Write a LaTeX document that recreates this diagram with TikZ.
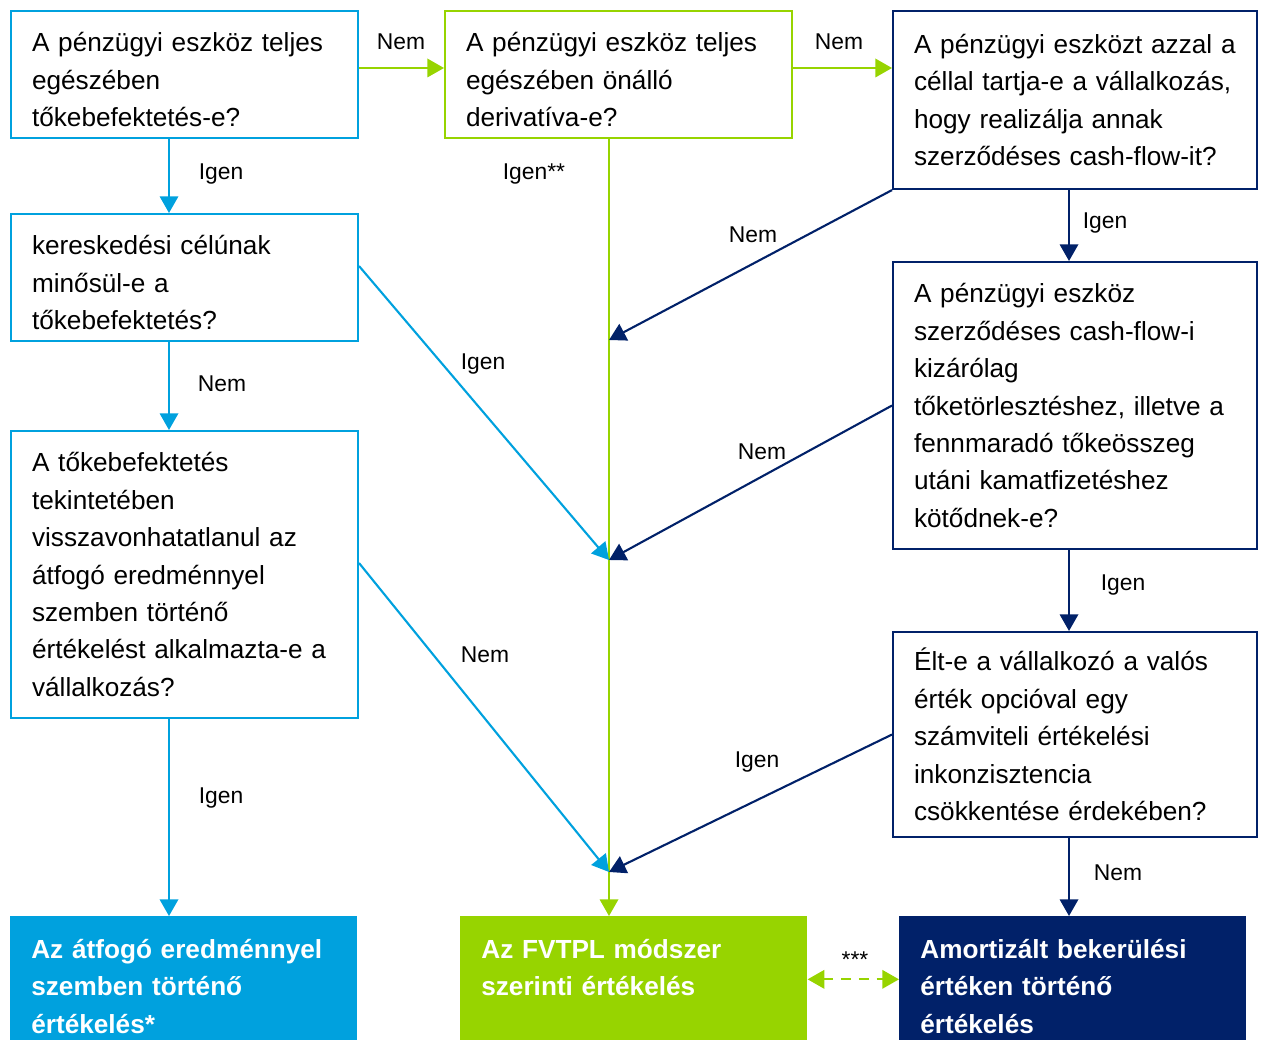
\documentclass[tikz,border=0pt]{standalone}
\usepackage{fontspec}
\setmainfont{Liberation Sans}
\usetikzlibrary{arrows.meta, positioning}
\definecolor{ltBlue}{RGB}{0,161,222}
\definecolor{fvGreen}{RGB}{151,212,0}
\definecolor{darkNavy}{RGB}{1,33,105}
\newcommand{\padTop}{\rule{0pt}{16.8pt}}
\tikzstyle{qBox} = [rectangle, draw, line width=1.2pt, anchor=north west, align=left, inner xsep=0.42cm, inner ysep=0pt, font=\fontsize{14.9}{21.3}\selectfont]
\tikzstyle{narrowBox} = [qBox, text width=6.1cm, minimum width=6.94cm]
\tikzstyle{wideBox} = [qBox, text width=6.44cm, minimum width=7.28cm]
\tikzstyle{endBox} = [rectangle, anchor=north west, align=left, text=white, font=\fontsize{14.9}{21.3}\selectfont\bfseries, text width=6.1cm, minimum width=6.94cm, minimum height=2.8cm, inner xsep=0.42cm]
\tikzstyle{arr} = [line width=1.2pt, -{Triangle[length=9.5pt,width=10.5pt]}]
\tikzstyle{lbl} = [font=\fontsize{13}{15}\selectfont]

\begin{document}
\begin{tikzpicture}[x=0.02cm,y=-0.02cm]
	\clip (0,0) rectangle (1261,1040);
	\coordinate (colL) at (169,0);
	\coordinate (colM) at (609,0);
	\coordinate (colR) at (1069,0);
	\coordinate (rowTop) at (0,68);

	% question boxes
	\node [narrowBox,draw=ltBlue,minimum height=2.54cm] (b1) at (10,10) {\padTop A pénzügyi eszköz teljes\\egészében\\tőkebefektetés-e?};
	\node [narrowBox,draw=fvGreen,minimum height=2.54cm] (b2) at (444,10) {\padTop A pénzügyi eszköz teljes\\egészében önálló\\derivatíva-e?};
	\node [wideBox,draw=darkNavy,minimum height=3.56cm] (b3) at (892,10) {\mbox{A pénzügyi eszközt azzal a}\\\mbox{céllal tartja-e a vállalkozás,}\\hogy realizálja annak\\szerződéses cash-flow-it?};
	\node [narrowBox,draw=ltBlue,minimum height=2.54cm] (b4) at (10,213) {\padTop kereskedési célúnak\\minősül-e a\\tőkebefektetés?};
	\node [narrowBox,draw=ltBlue,minimum height=5.74cm] (b5) at (10,430) {A tőkebefektetés\\tekintetében\\visszavonhatatlanul az\\átfogó eredménnyel\\szemben történő\\értékelést alkalmazta-e a\\vállalkozás?};
	\node [wideBox,draw=darkNavy,minimum height=5.74cm] (b6) at (892,261) {A pénzügyi eszköz\\szerződéses cash-flow-i\\kizárólag\\\mbox{tőketörlesztéshez, illetve a}\\fennmaradó tőkeösszeg\\utáni kamatfizetéshez\\kötődnek-e?};
	\node [wideBox,draw=darkNavy,minimum height=4.1cm] (b7) at (892,631) {Élt-e a vállalkozó a valós\\érték opcióval egy\\számviteli értékelési\\inkonzisztencia\\csökkentése érdekében?};

	% result boxes
	\node [endBox,fill=ltBlue] (e1) at (10,916) {Az átfogó eredménnyel\\szemben történő\\értékelés*};
	\node [endBox,fill=fvGreen] (e2) at (460,916) {Az FVTPL módszer\\szerinti értékelés\\\mbox{}};
	\node [endBox,fill=darkNavy] (e3) at (899,916) {Amortizált bekerülési\\értéken történő\\értékelés};

	\coordinate (j1) at (609,340);
	\coordinate (j2) at (609,560);
	\coordinate (j3) at (609,872);

	% connectors
	\draw [arr,fvGreen] (b1.east |- rowTop) -- (b2.west |- rowTop);
	\draw [arr,fvGreen] (b2.east |- rowTop) -- (b3.west |- rowTop);
	\draw [arr,fvGreen] (b2.south -| colM) -- (e2.north -| colM);
	\draw [arr,ltBlue] (b1.south -| colL) -- (b4.north -| colL);
	\draw [arr,ltBlue] (b4.south -| colL) -- (b5.north -| colL);
	\draw [arr,ltBlue] (b5.south -| colL) -- (e1.north -| colL);
	\draw [arr,darkNavy] (b3.south -| colR) -- (b6.north -| colR);
	\draw [arr,darkNavy] (b6.south -| colR) -- (b7.north -| colR);
	\draw [arr,darkNavy] (b7.south -| colR) -- (e3.north -| colR);
	\draw [arr,darkNavy] (b3.south west) -- (j1);
	\draw [arr,ltBlue] ([yshift=0.23cm]b4.east) -- (j2);
	\draw [arr,darkNavy] (b6.west) -- (j2);
	\draw [arr,ltBlue] ([yshift=0.23cm]b5.east) -- (j3);
	\draw [arr,darkNavy] (b7.west) -- (j3);
	\draw [line width=1.2pt,fvGreen,dash pattern=on 5.5pt off 4.5pt,{Triangle[length=9.5pt,width=10.5pt]}-{Triangle[length=9.5pt,width=10.5pt]}] ([yshift=0.14cm]e2.east) -- ([yshift=0.14cm]e3.west);

	% labels
	\node [lbl] (l1) at (401,42) {Nem};
	\node [lbl] (l2) at (839,42) {Nem};
	\node [lbl] (l3) at (221,174) {Igen};
	\node [lbl] (l4) at (534,174) {Igen**};
	\node [lbl] (l5) at (1105,223) {Igen};
	\node [lbl] (l6) at (753,235) {Nem};
	\node [lbl] (l7) at (483,364) {Igen};
	\node [lbl] (l8) at (222,384) {Nem};
	\node [lbl] (l9) at (762,452) {Nem};
	\node [lbl] (l10) at (1123,585) {Igen};
	\node [lbl] (l11) at (485,655) {Nem};
	\node [lbl] (l12) at (757,762) {Igen};
	\node [lbl] (l13) at (221,798) {Igen};
	\node [lbl] (l14) at (1118,873) {Nem};
	\node [lbl] (l15) at (855,960) {***};
\end{tikzpicture}
\end{document}
